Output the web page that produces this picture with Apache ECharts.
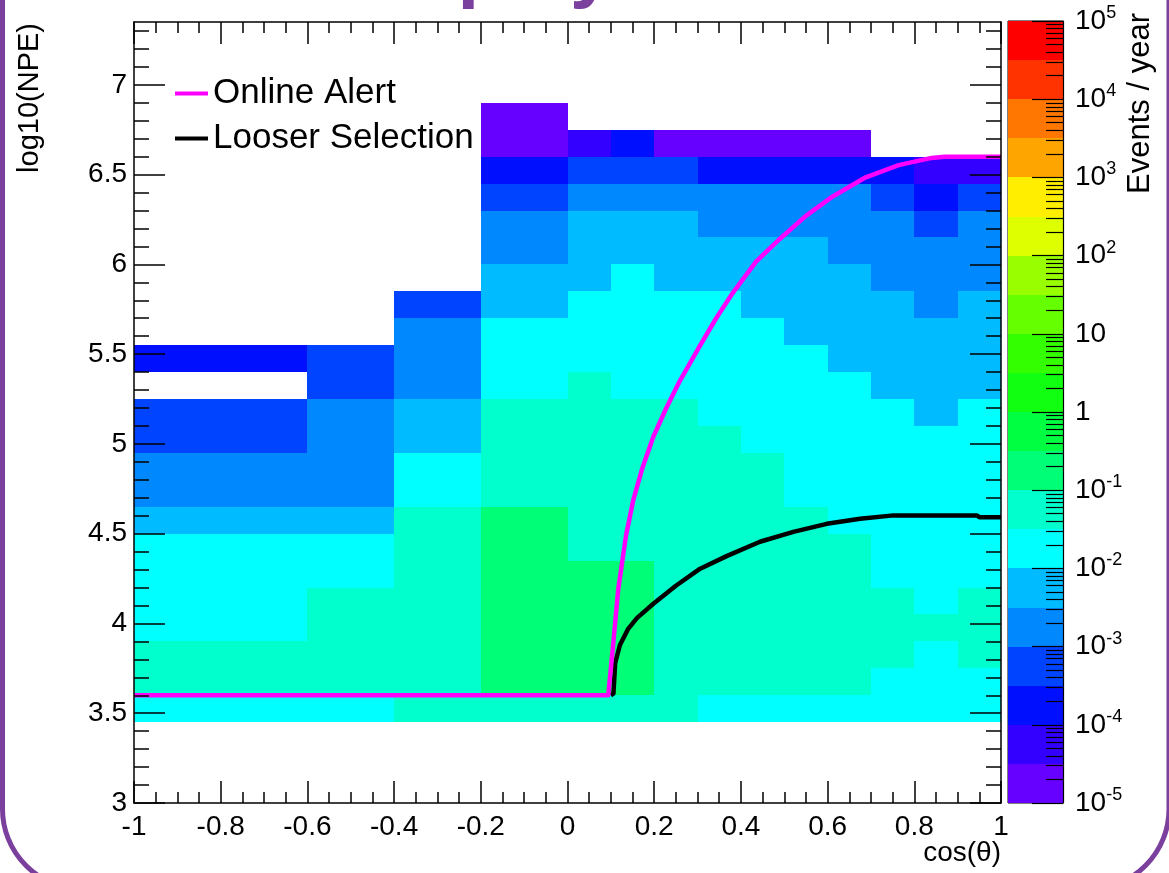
<!DOCTYPE html>
<html>
<head>
<meta charset="utf-8">
<script src="https://cdn.jsdelivr.net/npm/echarts@6/dist/echarts.min.js"></script>
<style>
  html, body { margin: 0; padding: 0; background: #fff; }
  #main { width: 1169px; height: 873px; }
</style>
</head>
<body>
<div id="main"></div>
<script>
// ---------------- data ----------------
// bin edges in cos(theta)
const xEdges = [-1, -0.6, -0.4, -0.2, 0, 0.1, 0.2, 0.3, 0.4, 0.5, 0.6, 0.7, 0.8, 0.9, 1.0];
// bin edges in log10(NPE)
const yEdges = [3.45, 3.6, 3.75, 3.9, 4.05, 4.2, 4.35, 4.5, 4.65, 4.8, 4.95, 5.1, 5.25,
                5.4, 5.55, 5.7, 5.85, 6.0, 6.15, 6.3, 6.45, 6.6, 6.75, 6.9];
// events / year, one row per log10(NPE) bin (first row = 3.45-3.6), null = empty bin
const n = null;
const eventsPerYear = [
  [0.02, 0.02, 0.06, 0.06, 0.06, 0.06, 0.06, 0.02, 0.02, 0.02, 0.02, 0.02, 0.02, 0.02],
  [0.06, 0.06, 0.06, 0.2, 0.2, 0.2, 0.06, 0.06, 0.06, 0.06, 0.06, 0.02, 0.02, 0.02],
  [0.06, 0.06, 0.06, 0.2, 0.2, 0.2, 0.06, 0.06, 0.06, 0.06, 0.06, 0.06, 0.02, 0.06],
  [0.02, 0.06, 0.06, 0.2, 0.2, 0.2, 0.06, 0.06, 0.06, 0.06, 0.06, 0.06, 0.06, 0.06],
  [0.02, 0.06, 0.06, 0.2, 0.2, 0.2, 0.06, 0.06, 0.06, 0.06, 0.06, 0.06, 0.02, 0.06],
  [0.02, 0.02, 0.06, 0.2, 0.2, 0.2, 0.06, 0.06, 0.06, 0.06, 0.06, 0.02, 0.02, 0.02],
  [0.02, 0.02, 0.06, 0.2, 0.06, 0.06, 0.06, 0.06, 0.06, 0.06, 0.06, 0.02, 0.02, 0.02],
  [0.006, 0.006, 0.06, 0.2, 0.06, 0.06, 0.06, 0.06, 0.06, 0.06, 0.02, 0.02, 0.02, 0.02],
  [0.002, 0.002, 0.02, 0.06, 0.06, 0.06, 0.06, 0.06, 0.06, 0.02, 0.02, 0.02, 0.02, 0.02],
  [0.002, 0.002, 0.02, 0.06, 0.06, 0.06, 0.06, 0.06, 0.06, 0.02, 0.02, 0.02, 0.02, 0.02],
  [0.0006, 0.002, 0.006, 0.06, 0.06, 0.06, 0.06, 0.06, 0.02, 0.02, 0.02, 0.02, 0.02, 0.02],
  [0.0006, 0.002, 0.006, 0.06, 0.06, 0.06, 0.06, 0.02, 0.02, 0.02, 0.02, 0.02, 0.006, 0.02],
  [n, 0.0006, 0.002, 0.02, 0.06, 0.02, 0.02, 0.02, 0.02, 0.02, 0.02, 0.006, 0.006, 0.006],
  [0.0002, 0.0006, 0.002, 0.02, 0.02, 0.02, 0.02, 0.02, 0.02, 0.02, 0.006, 0.006, 0.006, 0.006],
  [n, n, 0.002, 0.02, 0.02, 0.02, 0.02, 0.02, 0.02, 0.006, 0.006, 0.006, 0.006, 0.006],
  [n, n, 0.0006, 0.006, 0.02, 0.02, 0.02, 0.02, 0.006, 0.006, 0.006, 0.006, 0.002, 0.006],
  [n, n, n, 0.006, 0.006, 0.02, 0.006, 0.006, 0.006, 0.006, 0.006, 0.002, 0.002, 0.002],
  [n, n, n, 0.002, 0.006, 0.006, 0.006, 0.006, 0.006, 0.006, 0.002, 0.002, 0.002, 0.002],
  [n, n, n, 0.002, 0.006, 0.006, 0.006, 0.002, 0.002, 0.002, 0.002, 0.002, 0.0006, 0.002],
  [n, n, n, 0.0006, 0.002, 0.002, 0.002, 0.002, 0.002, 0.002, 0.002, 0.0006, 0.0002, 0.0006],
  [n, n, n, 0.0002, 0.0006, 0.0006, 0.0006, 0.0002, 0.0002, 0.0002, 0.0002, 0.0002, 0.00006, 0.00006],
  [n, n, n, 0.00002, 0.00006, 0.0002, 0.00002, 0.00002, 0.00002, 0.00002, 0.00002, n, n, n],
  [n, n, n, 0.00002, n, n, n, n, n, n, n, n, n, n]
];

// threshold curves
const onlineAlertX = [-1, 0.094, 0.106, 0.117, 0.135, 0.152, 0.172, 0.198, 0.228, 0.259, 0.305, 0.343,
                      0.381, 0.435, 0.489, 0.55, 0.611, 0.688, 0.764, 0.84, 0.87, 1.0];
const onlineAlertY = [3.6, 3.6, 3.9, 4.19, 4.49, 4.69, 4.86, 5.04, 5.2, 5.35, 5.545, 5.7,
                      5.84, 6.015, 6.14, 6.27, 6.377, 6.485, 6.553, 6.593, 6.6, 6.6];
const looserX = [0.1, 0.106, 0.11, 0.121, 0.14, 0.16, 0.198, 0.25, 0.306, 0.367, 0.444, 0.521,
                 0.598, 0.675, 0.752, 0.944, 0.95, 1.0];
const looserY = [3.6, 3.61, 3.78, 3.88, 3.97, 4.03, 4.11, 4.21, 4.305, 4.375, 4.455, 4.51,
                 4.555, 4.583, 4.602, 4.602, 4.592, 4.592];

// axis ticks
const xTickInterval = 0.2;
const yTickLabels = [3, 3.5, 4, 4.5, 5, 5.5, 6, 6.5, 7];
const zDecades = [-5, -4, -3, -2, -1, 0, 1, 2, 3, 4, 5];   // log10(Events / year) labels

// ---------------- styles ----------------
const FONT = '"Liberation Sans", Arial, Helvetica, sans-serif';
const palette = ['#6600ff', '#3300ff', '#0010ff', '#0044ff', '#0088ff', '#00bbff', '#00ffff',
                 '#00ffcc', '#00ff77', '#00ff40', '#11ff11', '#33ff00', '#66ff00', '#99ff00',
                 '#ddff00', '#ffee00', '#ffa500', '#ff7700', '#ff3300', '#ff0000'];

// ---------------- build ----------------
const cellData = [];
for (let r = 0; r < eventsPerYear.length; r++) {
  for (let c = 0; c < xEdges.length - 1; c++) {
    const v = eventsPerYear[r][c];
    if (v == null) continue;
    cellData.push([xEdges[c], xEdges[c + 1], yEdges[r], yEdges[r + 1], Math.log10(v)]);
  }
}
const pieces = palette.map((col, i) => ({ gte: -5 + 0.5 * i, lt: -4.5 + 0.5 * i, color: col }));
const barData = palette.map((col, i) => [0, 1, -5 + 0.5 * i, -4.5 + 0.5 * i, -4.75 + 0.5 * i]);

const yMinor = [];
for (let i = 31; i <= 73; i++) if (i % 5) yMinor.push(i / 10);
const zMinor = [];
for (let d = -5; d < 5; d++) for (let k = 2; k <= 9; k++) zMinor.push(d + Math.log10(k));

const zip = (a, b) => a.map((v, i) => [v, b[i]]);

function renderRect(params, api) {
  const p0 = api.coord([api.value(0), api.value(2)]);
  const p1 = api.coord([api.value(1), api.value(3)]);
  const x0 = Math.round(p0[0]), x1 = Math.round(p1[0]);
  const yb = Math.round(p0[1]), yt = Math.round(p1[1]);
  return { type: 'rect', shape: { x: x0, y: yt, width: x1 - x0, height: yb - yt },
           style: { fill: api.visual('color') } };
}

const black = '#000';
const tickLine = { color: black, width: 1.5 };
const baseY = { type: 'value', min: 3, max: 7.35, gridIndex: 0, z: 10, splitLine: { show: false } };

const option = {
  animation: false,
  backgroundColor: '#fff',
  grid: [
    { left: 134, top: 22, width: 867, height: 781, containLabel: false, outerBoundsMode: 'none' },
    { left: 1008, top: 21, width: 55, height: 782, containLabel: false, outerBoundsMode: 'none',
      show: true, borderColor: black, borderWidth: 1, backgroundColor: 'transparent' }
  ],
  legend: {
    data: ['Online Alert', 'Looser Selection'],
    orient: 'vertical', left: 175, top: 76, itemGap: 10, padding: 0,
    itemWidth: 33, itemHeight: 4, icon: 'rect', selectedMode: false,
    textStyle: { fontSize: 35, color: black, fontFamily: FONT }
  },
  visualMap: { type: 'piecewise', show: false, dimension: 4, seriesIndex: [0, 1], pieces: pieces },
  xAxis: [
    { type: 'value', gridIndex: 0, position: 'bottom', min: -1, max: 1, interval: xTickInterval, z: 10,
      axisLine: { show: true, onZero: false, lineStyle: tickLine },
      axisTick: { show: true, inside: true, length: 22, lineStyle: tickLine },
      minorTick: { show: true, splitNumber: 4, length: 11, lineStyle: tickLine },
      splitLine: { show: false }, minorSplitLine: { show: false },
      axisLabel: { fontSize: 28, color: black, fontFamily: FONT, margin: 10,
                   formatter: v => String(Math.round(v * 10) / 10) } },
    { type: 'value', gridIndex: 0, position: 'top', min: -1, max: 1, interval: xTickInterval, z: 10,
      axisLine: { show: true, onZero: false, lineStyle: tickLine },
      axisTick: { show: true, inside: true, length: 22, lineStyle: tickLine },
      minorTick: { show: true, splitNumber: 4, length: 11, lineStyle: tickLine },
      splitLine: { show: false }, axisLabel: { show: false } },
    { type: 'value', gridIndex: 1, min: 0, max: 1, show: false }
  ],
  yAxis: [
    Object.assign({}, baseY, { position: 'left',
      axisLine: { show: true, onZero: false, lineStyle: tickLine },
      axisTick: { show: true, inside: true, length: 31, customValues: yTickLabels, lineStyle: tickLine },
      axisLabel: { customValues: yTickLabels, fontSize: 28, color: black, fontFamily: FONT, margin: 7,
                   formatter: v => String(v) } }),
    Object.assign({}, baseY, { position: 'left',
      axisLine: { show: false, onZero: false },
      axisTick: { show: true, inside: true, length: 15, customValues: yMinor, lineStyle: tickLine },
      axisLabel: { show: false } }),
    Object.assign({}, baseY, { position: 'right',
      axisLine: { show: true, onZero: false, lineStyle: tickLine },
      axisTick: { show: true, inside: true, length: 31, customValues: yTickLabels, lineStyle: tickLine },
      axisLabel: { show: false } }),
    Object.assign({}, baseY, { position: 'right',
      axisLine: { show: false, onZero: false },
      axisTick: { show: true, inside: true, length: 15, customValues: yMinor, lineStyle: tickLine },
      axisLabel: { show: false } }),
    { type: 'value', gridIndex: 1, position: 'right', min: -5, max: 5, interval: 1, z: 10,
      splitLine: { show: false },
      axisLine: { show: true, onZero: false, lineStyle: { color: black, width: 1.2 } },
      axisTick: { show: true, inside: true, length: 31, lineStyle: { color: black, width: 1.2 } },
      axisLabel: { customValues: zDecades, margin: 12, color: black, fontFamily: FONT,
        formatter: v => v === 0 ? '{b|1}' : (v === 1 ? '{b|10}' : '{b|10}{s|' + v + '}'),
        rich: { b: { fontSize: 28, lineHeight: 34, fontFamily: FONT, color: black },
                s: { fontSize: 18, lineHeight: 18, verticalAlign: 'top', fontFamily: FONT, color: black } } } },
    { type: 'value', gridIndex: 1, position: 'right', min: -5, max: 5, z: 10,
      splitLine: { show: false }, axisLine: { show: false, onZero: false },
      axisTick: { show: true, inside: true, length: 17, customValues: zMinor,
                  lineStyle: { color: black, width: 1.2 } },
      axisLabel: { show: false } }
  ],
  series: [
    { name: 'cells', type: 'custom', xAxisIndex: 0, yAxisIndex: 0, renderItem: renderRect,
      encode: { x: [0, 1], y: [2, 3] }, data: cellData, z: 1, silent: true },
    { name: 'colorbar', type: 'custom', xAxisIndex: 2, yAxisIndex: 4, renderItem: renderRect,
      encode: { x: [0, 1], y: [2, 3] }, data: barData, z: 1, silent: true },
    { name: 'Looser Selection', type: 'line', xAxisIndex: 0, yAxisIndex: 0, data: zip(looserX, looserY),
      showSymbol: false, symbol: 'none', smooth: false,
      color: '#000', lineStyle: { color: '#000', width: 4.5, join: 'round' }, z: 5, silent: true },
    { name: 'Online Alert', type: 'line', xAxisIndex: 0, yAxisIndex: 0, data: zip(onlineAlertX, onlineAlertY),
      showSymbol: false, symbol: 'none', smooth: false,
      color: '#ff00ff', lineStyle: { color: '#ff00ff', width: 4.5, join: 'round' }, z: 6, silent: true }
  ],
  graphic: [
    { type: 'rect', silent: true, z: -10,
      shape: { x: 2.5, y: -100, width: 1166.5, height: 989, r: 80 },
      style: { fill: 'none', stroke: '#7b3f9e', lineWidth: 5 } },
    { type: 'text', silent: true, x: 336, y: 10,
      style: { text: 'Display', fontSize: 78, fontWeight: 'bold', fontFamily: FONT, fill: '#7b3f9e',
               align: 'left', verticalAlign: 'bottom' } },
    { type: 'text', silent: true, x: 30, y: 23, rotation: Math.PI / 2,
      style: { text: 'log10(NPE)', fontSize: 29, fontFamily: FONT, fill: black, align: 'right', verticalAlign: 'middle' } },
    { type: 'text', silent: true, x: 1001, y: 853,
      style: { text: 'cos(θ)', fontSize: 28, fontFamily: FONT, fill: black, align: 'right', verticalAlign: 'middle' } },
    { type: 'text', silent: true, x: 1140, y: 13, rotation: Math.PI / 2,
      style: { text: 'Events / year', fontSize: 31, fontFamily: FONT, fill: black, align: 'right', verticalAlign: 'middle' } }
  ]
};

const chart = echarts.init(document.getElementById('main'), null, { renderer: 'canvas' });
chart.setOption(option);
</script>
</body>
</html>
